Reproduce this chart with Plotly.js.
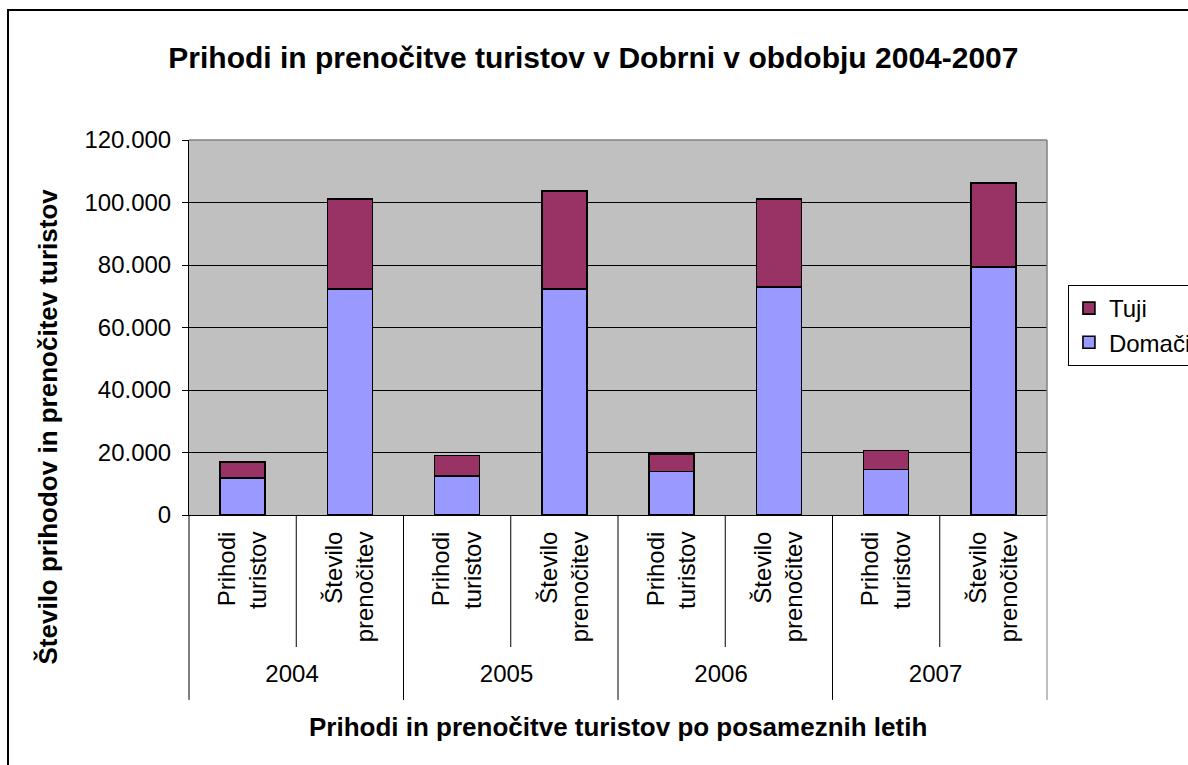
<!DOCTYPE html>
<html>
<head>
<meta charset="utf-8">
<script src="https://cdn.plot.ly/plotly-3.0.1.min.js"></script>
<style>
  html, body { margin: 0; padding: 0; background: #fff; overflow: hidden; }
  #frame { position: absolute; left: 7px; top: 9px; width: 1200px; height: 800px; border: 2px solid #000; }
  #chart { width: 1200px; height: 751px; }
</style>
</head>
<body>
<div id="frame"><div id="chart"></div></div>
<script>
// ---- data ----
const years = ['2004', '2005', '2006', '2007'];
const measures = ['Prihodi<br>turistov', 'Število<br>prenočitev'];
const domaci = [11900, 72300, 12500, 72300, 13900, 73000, 14500, 79400];
const tuji   = [5100, 28800, 6500, 31400, 5700, 28100, 6200, 26800];
const seriesNames = ['Domači', 'Tuji'];
const seriesColors = ['#9999FF', '#993366'];
const chartTitle = 'Prihodi in prenočitve turistov v Dobrni v obdobju 2004-2007';
const yTitle = 'Število prihodov in prenočitev turistov';
const xTitle = 'Prihodi in prenočitve turistov po posameznih letih';

// multicategory x
const outer = [], inner = [];
years.forEach(y => measures.forEach(m => { outer.push(y); inner.push(m); }));
const xcat = [outer, inner];

const FONT = 'Liberation Sans, Arial, sans-serif';

const traces = [domaci, tuji].map((vals, i) => ({
  type: 'bar',
  name: seriesNames[i],
  x: xcat,
  y: vals,
  marker: { color: seriesColors[i], line: { color: '#000', width: 1.6 } },
  hoverinfo: 'y+name'
}));

// category boundary dividers
const n = outer.length;
const shapes = [];
for (let k = 0; k <= n; k++) {
  const isOuter = (k % measures.length === 0);
  shapes.push({
    type: 'line', xref: 'paper', yref: 'paper',
    x0: k / n, x1: k / n, y0: 0, y1: isOuter ? -0.493 : -0.352,
    line: { color: k === n ? '#808080' : '#000', width: 1 }
  });
}
// plot area top & right edges (gray)
shapes.push({ type: 'line', xref: 'paper', yref: 'paper', x0: 0, x1: 1, y0: 1, y1: 1, line: { color: '#808080', width: 1.5 } });
shapes.push({ type: 'line', xref: 'paper', yref: 'paper', x0: 1, x1: 1, y0: 0, y1: 1, line: { color: '#808080', width: 1.5 } });

const layout = {
  width: 1200, height: 751,
  margin: { l: 180, r: 159, t: 129, b: 247 },
  paper_bgcolor: '#fff',
  plot_bgcolor: '#C0C0C0',
  separators: ',.',
  font: { family: FONT, size: 24, color: '#000' },
  title: {
    text: '<b>' + chartTitle + '</b>',
    font: { family: FONT, size: 30, color: '#000' },
    xref: 'container', x: 0.487, xanchor: 'center',
    yref: 'container', y: 0.9387, yanchor: 'middle'
  },
  barmode: 'stack',
  bargap: 0.58,
  showlegend: true,
  legend: {
    x: 1.0244, y: 0.6133, xanchor: 'left', yanchor: 'top',
    bordercolor: '#000', borderwidth: 1, bgcolor: '#fff',
    traceorder: 'reversed',
    font: { family: FONT, size: 24, color: '#000' }
  },
  xaxis: {
    type: 'multicategory',
    showdividers: false,
    showline: true, linecolor: '#000', linewidth: 1,
    ticks: '', tickangle: -90,
    ticklabelstandoff: 6,
    tickfont: { family: FONT, size: 24, color: '#000' },
    showgrid: false, zeroline: false
  },
  yaxis: {
    range: [0, 120000], dtick: 20000, tickformat: ',d',
    showline: true, linecolor: '#000', linewidth: 1,
    ticks: 'outside', ticklen: 6, tickcolor: '#000',
    ticklabelstandoff: 6,
    gridcolor: '#000', gridwidth: 1,
    zeroline: false,
    tickfont: { family: FONT, size: 24, color: '#000' }
  },
  annotations: [
    {
      text: '<b>' + yTitle + '</b>', xref: 'paper', yref: 'paper',
      x: -0.1649, y: 0.2347, xanchor: 'center', yanchor: 'middle',
      textangle: -90, showarrow: false,
      font: { family: FONT, size: 26, color: '#000' }
    },
    {
      text: '<b>' + xTitle + '</b>', xref: 'paper', yref: 'paper',
      x: 0.5, y: -0.565, xanchor: 'center', yanchor: 'middle',
      showarrow: false,
      font: { family: FONT, size: 26, color: '#000' }
    }
  ],
  shapes: shapes
};

Plotly.newPlot('chart', traces, layout, { displayModeBar: false, staticPlot: true });
</script>
</body>
</html>
